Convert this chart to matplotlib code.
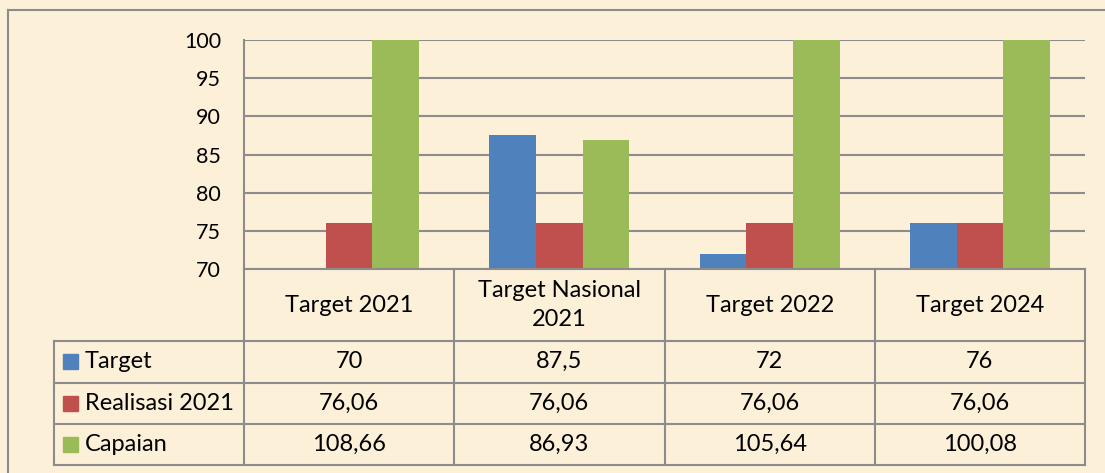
import numpy as np
import matplotlib.pyplot as plt
from matplotlib.lines import Line2D

# data
kategori = ["Target 2021", "Target Nasional\n2021", "Target 2022", "Target 2024"]
seri = ["Target", "Realisasi 2021", "Capaian"]
target = [70, 87.5, 72, 76]
realisasi = [76.06, 76.06, 76.06, 76.06]
capaian = [108.66, 86.93, 105.64, 100.08]
warna = ["#4F81BD", "#C0504D", "#9BBB59"]
yticks = [70, 75, 80, 85, 90, 95, 100]

W, H = 1105, 473
bg = "#FCF0D9"
garis = "#8C8C8C"
plt.rcParams['font.family'] = ['Lato', 'DejaVu Sans']
fs = 17

fig = plt.figure(figsize=(W / 100, H / 100), dpi=100, facecolor=bg)

def fx(px):
    return px / W

def fy(py):
    return 1 - py / H

# area plot (piksel)
x0, x1 = 244, 1085
y_top, y_bot = 40, 269
ax = fig.add_axes([fx(x0), fy(y_bot), fx(x1 - x0), (y_bot - y_top) / H])
ax.set_facecolor("none")

n = len(kategori)
x = np.arange(n)
lebar = 1 / 4.5
for i, vals in enumerate([target, realisasi, capaian]):
    ax.bar(x + (i - 1) * lebar, vals, width=lebar, color=warna[i], zorder=3)

ax.set_xlim(-0.5, n - 0.5)
ax.set_ylim(70, 100)
ax.set_yticks(yticks)
ax.set_yticklabels([str(t) for t in yticks], fontsize=15.5)
ax.tick_params(axis='y', length=0, pad=16.5)
ax.set_xticks([])
ax.grid(axis='y', color=garis, linewidth=1.5, zorder=0)
for s in ['top', 'right', 'bottom']:
    ax.spines[s].set_visible(False)
ax.spines['left'].set_color(garis)
ax.spines['left'].set_linewidth(1.5)

# bingkai luar
fig.add_artist(Line2D([fx(8), 1], [fy(10), fy(10)], color=garis, lw=1.5))
fig.add_artist(Line2D([fx(8), fx(8)], [fy(10), 0], color=garis, lw=1.5))

# tabel data
kol = np.linspace(x0, x1, n + 1)
baris = [269, 341, 382.5, 424, 465]
tl = 54
fig.add_artist(Line2D([fx(x0), fx(x1)], [fy(baris[0])] * 2, color=garis, lw=1.5))
for yb in baris[1:]:
    fig.add_artist(Line2D([fx(tl), fx(x1)], [fy(yb)] * 2, color=garis, lw=1.5))
for xk in kol:
    fig.add_artist(Line2D([fx(xk)] * 2, [fy(baris[0]), fy(baris[-1])], color=garis, lw=1.5))
fig.add_artist(Line2D([fx(tl)] * 2, [fy(baris[1]), fy(baris[-1])], color=garis, lw=1.5))

def fmt(v):
    return f"{v:g}".replace('.', ',')

for j, k in enumerate(kategori):
    cx = (kol[j] + kol[j + 1]) / 2
    fig.text(fx(cx), fy((baris[0] + baris[1]) / 2), k, ha='center', va='center',
             fontsize=fs, linespacing=1.42)

for i, (nama, vals) in enumerate(zip(seri, [target, realisasi, capaian])):
    cy = (baris[i + 1] + baris[i + 2]) / 2
    fig.patches.append(plt.Rectangle((fx(63), fy(cy + 7.5)), fx(15), 15 / H,
                                     color=warna[i], transform=fig.transFigure, figure=fig))
    fig.text(fx(85), fy(cy), nama, ha='left', va='center', fontsize=fs)
    for j, v in enumerate(vals):
        cx = (kol[j] + kol[j + 1]) / 2
        fig.text(fx(cx), fy(cy), fmt(v), ha='center', va='center', fontsize=fs)

fig.savefig("out.png", dpi=100, facecolor=bg)
